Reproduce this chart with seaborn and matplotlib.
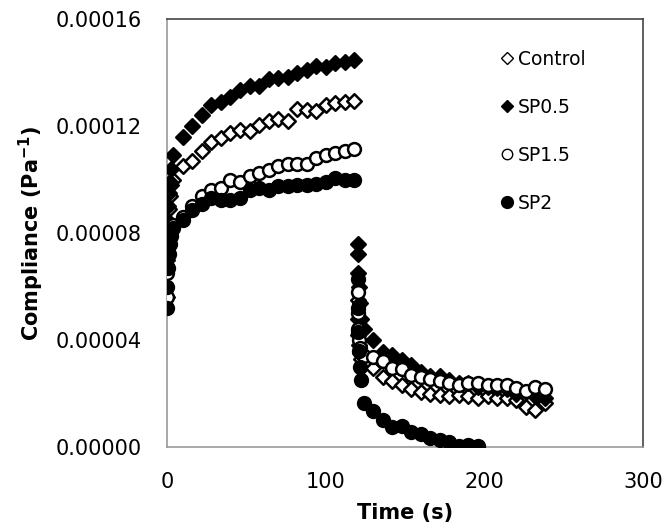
import numpy as np
import pandas as pd
import matplotlib
matplotlib.use("Agg")
import matplotlib.pyplot as plt
import seaborn as sns
from matplotlib.lines import Line2D

# ---- data (compliance in 1e-5 Pa^-1) ----
creep_t = [0.1, 0.3, 0.6, 1.0, 1.6, 2.5, 4, 10, 16, 22, 28, 34, 40, 46, 52, 58,
           64, 70, 76, 82, 88, 94, 100, 106, 112, 118]
recov_t = [120.1, 120.3, 120.6, 121.0, 121.6, 122.5, 124, 130, 136, 142, 148, 154,
           160, 166, 172, 178, 184, 190, 196, 202, 208, 214, 220, 226, 232, 238]

control_creep = [5.6, 7.0, 8.0, 8.9, 9.4, 9.8, 10.0, 10.5, 10.7, 11.05, 11.4, 11.55, 11.75,
                 11.85, 11.8, 12.05, 12.2, 12.25, 12.2, 12.65, 12.6, 12.55, 12.8, 12.85, 12.9, 12.93]
sp05_creep = [7.7, 8.5, 9.0, 9.5, 9.9, 10.4, 10.9, 11.6, 12.0, 12.4, 12.8, 12.9, 13.1,
              13.35, 13.5, 13.5, 13.75, 13.8, 13.85, 14.0, 14.1, 14.25, 14.2, 14.35, 14.4, 14.47]
sp15_creep = [5.6, 6.5, 7.2, 7.6, 7.9, 8.1, 8.3, 8.6, 9.0, 9.4, 9.6, 9.7, 10.0,
              9.9, 10.15, 10.25, 10.35, 10.5, 10.6, 10.6, 10.6, 10.8, 10.9, 11.0, 11.05, 11.15]
sp2_creep = [5.2, 6.0, 6.7, 7.2, 7.6, 7.9, 8.2, 8.5, 8.85, 9.1, 9.3, 9.25, 9.25,
             9.3, 9.6, 9.7, 9.6, 9.75, 9.75, 9.8, 9.8, 9.85, 9.9, 10.05, 10.0, 10.0]

control_recov = [5.5, 4.8, 4.2, 3.8, 3.5, 3.3, 3.1, 2.95, 2.6, 2.45, 2.3, 2.15, 2.05,
                 2.0, 1.95, 1.9, 1.95, 1.9, 1.85, 1.9, 1.85, 1.85, 1.75, 1.5, 1.4, 1.65]
sp05_recov = [7.6, 7.2, 6.5, 6.0, 5.4, 4.8, 4.4, 4.0, 3.55, 3.45, 3.25, 3.05, 2.8,
              2.65, 2.65, 2.5, 2.4, 2.4, 2.25, 2.25, 2.2, 2.15, 2.0, 2.05, 1.9, 1.85]
sp15_recov = [5.8, 5.0, 4.4, 4.0, 3.7, 3.5, 3.4, 3.35, 3.2, 2.95, 2.9, 2.7, 2.6,
              2.55, 2.45, 2.4, 2.3, 2.4, 2.4, 2.3, 2.3, 2.3, 2.2, 2.1, 2.25, 2.15]
sp2_recov = [6.3, 5.2, 4.3, 3.6, 3.0, 2.5, 1.65, 1.35, 1.0, 0.75, 0.8, 0.55, 0.5,
             0.35, 0.25, 0.18, 0.05, 0.07, 0.03]

series_names = ["Control", "SP0.5", "SP1.5", "SP2"]
series_vals = {
    "Control": control_creep + control_recov,
    "SP0.5": sp05_creep + sp05_recov,
    "SP1.5": sp15_creep + sp15_recov,
    "SP2": sp2_creep + sp2_recov,
}

rows = []
for name in series_names:
    vals = series_vals[name]
    times = (creep_t + recov_t)[:len(vals)]
    for t, v in zip(times, vals):
        rows.append({"Time": t, "Compliance": v * 1e-5, "Sample": name})
df = pd.DataFrame(rows)

style = {
    "Control": dict(marker="D", fc="white", s=55, lms=6.5),
    "SP0.5": dict(marker="D", fc="black", s=55, lms=6.5),
    "SP1.5": dict(marker="o", fc="white", s=85, lms=7.5),
    "SP2": dict(marker="o", fc="black", s=85, lms=8.5),
}

sns.set_style("white")
plt.rcParams["font.family"] = ["DejaVu Sans"]
plt.rcParams["text.color"] = "black"
plt.rcParams["axes.labelcolor"] = "black"

fig = plt.figure(figsize=(6.67, 5.3), dpi=100)
ax = fig.add_axes([0.2504, 0.1566, 0.7136, 0.8074])

for name in series_names:
    st = style[name]
    sns.scatterplot(data=df[df["Sample"] == name], x="Time", y="Compliance",
                    marker=st["marker"], s=st["s"], facecolor=st["fc"],
                    edgecolor="black", linewidth=1.8, ax=ax, legend=False, zorder=3)

ax.set_xlim(0, 300)
ax.set_ylim(0, 0.00016)
ax.set_xticks([0, 100, 200, 300])
ax.set_yticks([0, 0.00004, 0.00008, 0.00012, 0.00016])
ax.set_yticklabels(["0.00000", "0.00004", "0.00008", "0.00012", "0.00016"])
ax.tick_params(axis="both", length=0, labelsize=15, colors="black", labelcolor="black")
ax.tick_params(axis="y", pad=18)
ax.tick_params(axis="x", pad=18)

for side in ["left", "bottom"]:
    ax.spines[side].set_color("#999999")
    ax.spines[side].set_linewidth(1.2)
for side in ["top", "right"]:
    ax.spines[side].set_color("#444444")
    ax.spines[side].set_linewidth(1.2)

ax.set_xlabel("Time (s)", fontsize=15, fontweight="bold", labelpad=8, color="black")
ax.set_ylabel("Compliance (Pa$^{\\mathbf{-1}}$)", fontsize=15, fontweight="bold",
              labelpad=7, color="black")

handles = []
for name in series_names:
    st = style[name]
    handles.append(Line2D([], [], linestyle="none", marker=st["marker"],
                          markersize=st["lms"],
                          markerfacecolor=st["fc"], markeredgecolor="black",
                          markeredgewidth=1.0, label=name))
leg = ax.legend(handles=handles, loc="upper left", bbox_to_anchor=(0.672, 0.955),
                frameon=False, fontsize=13.5, labelspacing=1.55, handletextpad=0.05,
                handlelength=1.0, borderaxespad=0.2)
for txt in leg.get_texts():
    txt.set_color("black")

fig.savefig("out.png", dpi=100)
